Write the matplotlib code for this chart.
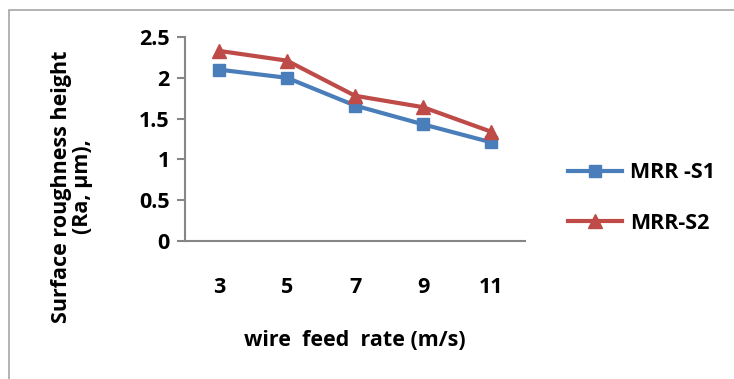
import numpy as np
import matplotlib.pyplot as plt
from matplotlib.patches import Rectangle

# data
feed_rate = ["3", "5", "7", "9", "11"]
mrr_s1 = [2.1, 2.0, 1.66, 1.43, 1.21]
mrr_s2 = [2.33, 2.21, 1.78, 1.64, 1.34]
y_ticks = [0, 0.5, 1, 1.5, 2, 2.5]
y_tick_labels = ["0", "0.5", "1", "1.5", "2", "2.5"]

plt.rcParams['font.family'] = ['Open Sans', 'DejaVu Sans']
plt.rcParams['font.weight'] = 'bold'
fs = 15.5

fig = plt.figure(figsize=(7.34, 3.79), dpi=100)
fig.patches.append(Rectangle((9 / 734, -0.1), 1.2, (379 - 10) / 379 + 0.1,
                             transform=fig.transFigure, fill=False,
                             edgecolor='#a6a6a6', linewidth=1.2))

ax = fig.add_axes([185 / 734, 138 / 379, 340 / 734, 204 / 379])
x = np.arange(len(feed_rate)) + 0.5
ax.plot(x, mrr_s1, color='#4a7ebb', linewidth=3, marker='s', markersize=9,
        label='MRR -S1')
ax.plot(x, mrr_s2, color='#be4b48', linewidth=3, marker='^', markersize=10,
        label='MRR-S2')

ax.set_xlim(0, len(feed_rate))
ax.set_ylim(0, 2.5)
ax.set_xticks(x)
ax.set_xticklabels(feed_rate)
ax.set_yticks(y_ticks)
ax.set_yticklabels(y_tick_labels)

for s in ['top', 'right']:
    ax.spines[s].set_visible(False)
for s in ['left', 'bottom']:
    ax.spines[s].set_color('#868686')
    ax.spines[s].set_linewidth(1.5)
ax.tick_params(axis='y', length=6, width=1.5, color='#868686', labelsize=fs, pad=5)
ax.tick_params(axis='x', length=0, labelsize=fs, pad=26)
for lbl in ax.get_xticklabels() + ax.get_yticklabels():
    lbl.set_fontweight('bold')

fig.text(355 / 734, 1 - 340 / 379, 'wire  feed  rate (m/s)', ha='center', va='center',
         fontsize=fs, fontweight='bold')
fig.text(72 / 734, 1 - 187 / 379, 'Surface roughness height\n(Ra, µm),', ha='center',
         va='center', rotation=90, fontsize=fs, fontweight='bold', linespacing=1.05)

ax.legend(loc='center left', bbox_to_anchor=(549 / 734, 1 - 198 / 379),
          bbox_transform=fig.transFigure, frameon=False,
          handlelength=2.5, labelspacing=1.35, handletextpad=0.35,
          prop={'weight': 'bold', 'size': fs})

fig.savefig('out.png', dpi=100)
